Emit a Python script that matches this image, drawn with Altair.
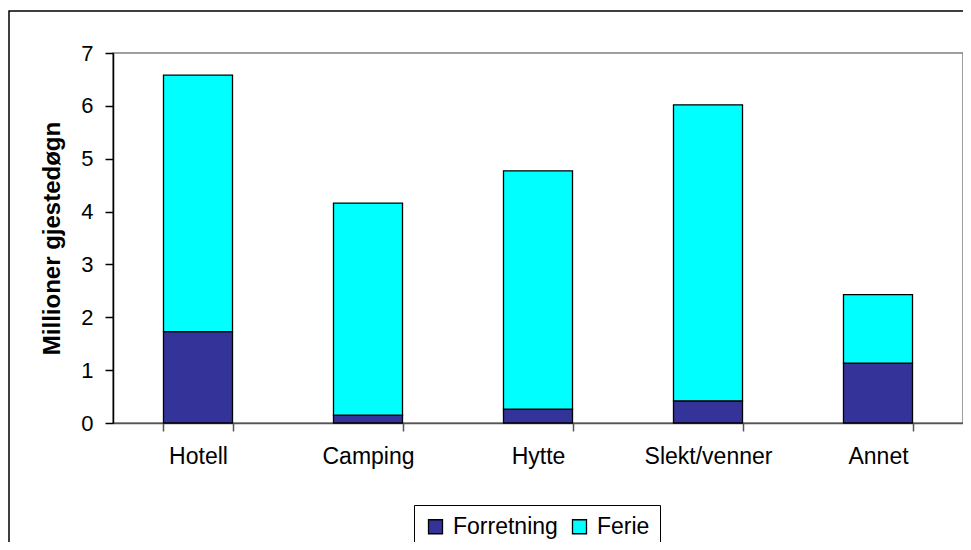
import altair as alt
import pandas as pd

categories = ["Hotell", "Camping", "Hytte", "Slekt/venner", "Annet"]
forretning = [1.73, 0.15, 0.26, 0.42, 1.13]
ferie = [4.85, 4.01, 4.51, 5.60, 1.30]
series = ["Forretning", "Ferie"]
colors = ["#333399", "#00FFFF"]
y_ticks = [0, 1, 2, 3, 4, 5, 6, 7]

rows = []
for i, c in enumerate(categories):
    rows.append({"Kategori": c, "Serie": series[0], "Verdi": forretning[i], "ord": 0})
    rows.append({"Kategori": c, "Serie": series[1], "Verdi": ferie[i], "ord": 1})
df = pd.DataFrame(rows)

FONT = "Liberation Sans"

legend = alt.Legend(
    title=None, orient="none", legendX=301, legendY=452,
    direction="horizontal", strokeColor="black", fillColor="white",
    padding=10, symbolType="square", symbolSize=196,
    symbolStrokeColor="black", symbolStrokeWidth=1.3, symbolOpacity=1,
    labelFontSize=23, labelFont=FONT, labelColor="black",
    labelOffset=6, columnPadding=10,
)

bars = alt.Chart(df).mark_bar(strokeWidth=1.3).encode(
    x=alt.X(
        "Kategori:N",
        sort=categories,
        scale=alt.Scale(paddingInner=0.594, paddingOuter=0.297),
        axis=alt.Axis(
            title=None, labelAngle=0, tickBand="extent",
            labelFontSize=23, labelFont=FONT, labelColor="black",
            domainColor="#555555", tickColor="#555555", domainWidth=1.5, tickWidth=1.5,
            tickSize=8, labelPadding=14,
        ),
    ),
    y=alt.Y(
        "Verdi:Q",
        stack="zero",
        scale=alt.Scale(domain=[0, 7], nice=False),
        axis=alt.Axis(
            values=y_ticks, title="Millioner gjestedøgn", grid=False,
            labelFontSize=22, labelFont=FONT, labelColor="black",
            domainColor="black", tickColor="black", domainWidth=1.5, tickWidth=1.5,
            tickSize=8, labelPadding=12,
            titleFontSize=24, titleFont=FONT, titleFontWeight="bold", titleColor="black",
            titlePadding=16,
        ),
    ),
    color=alt.Color(
        "Serie:N",
        sort=series,
        scale=alt.Scale(domain=series, range=colors),
        legend=legend,
    ),
    stroke=alt.Stroke(
        "Serie:N",
        sort=series,
        scale=alt.Scale(domain=series, range=["black", "black"]),
        legend=legend,
    ),
    order=alt.Order("ord:Q"),
)

border = alt.Chart(pd.DataFrame({"a": [0]})).mark_rect(
    fill=None, stroke="black", strokeWidth=1.5
).encode(
    x=alt.value(-104), x2=alt.value(900), y=alt.value(-42), y2=alt.value(600)
)

chart = alt.layer(border, bars).properties(
    width=850, height=370,
    autosize=alt.AutoSizeParams(type="none"),
    padding={"left": 105, "top": 45, "right": 0, "bottom": 119},
).configure_view(stroke="#808080", strokeWidth=1.5)

chart.save("out.html", embed_options={"renderer": "svg", "actions": False})
